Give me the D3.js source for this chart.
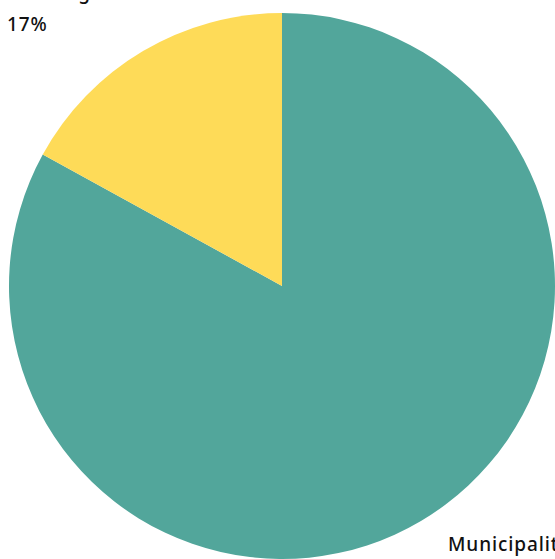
<!DOCTYPE html>
<html>
<head>
<meta charset="utf-8">
<script src="https://cdn.jsdelivr.net/npm/d3@7"></script>
<style>
  html, body { margin: 0; padding: 0; background: #fff; overflow: hidden; }
  svg { display: block; }
  .label { font-family: "Noto Sans", sans-serif; font-size: 19px; font-weight: 500; letter-spacing: 0.9px; fill: #111; }
</style>
</head>
<body>
<svg width="555" height="559"></svg>
<script>
// slice data
const categories = ['Municipality', 'Sewerage']
const values = [83, 17]
const colors = ['#52a69b', '#fedb58']

const width = 555
const height = 559
const cx = 282
const cy = 286
const radius = 273

const svg = d3.select('svg')
const g = svg.append('g').attr('transform', `translate(${cx},${cy})`)

const data = categories.map((c, i) => ({name: c, value: values[i], color: colors[i]}))
const pie = d3.pie().sort(null).value(d => d.value)
const arc = d3.arc().innerRadius(0).outerRadius(radius)
const arcs = pie(data)

g.selectAll('path')
  .data(arcs)
  .enter()
  .append('path')
  .attr('d', arc)
  .attr('fill', d => d.data.color)

// labels sit outside the pie, two lines each: name then percentage
const total = d3.sum(values)
const labelPos = {
  'Municipality': {x: cx + 166, y: cy + 265},
  'Sewerage': {x: cx - radius - 2, y: cy - radius - 14}
}
arcs.forEach((d) => {
  const p = labelPos[d.data.name]
  const t = svg.append('text')
    .attr('class', 'label')
    .attr('x', p.x)
    .attr('y', p.y)
  t.append('tspan').attr('x', p.x).text(d.data.name)
  t.append('tspan').attr('x', p.x).attr('dy', 32)
    .text(Math.round(100 * d.data.value / total) + '%')
})
</script>
</body>
</html>
